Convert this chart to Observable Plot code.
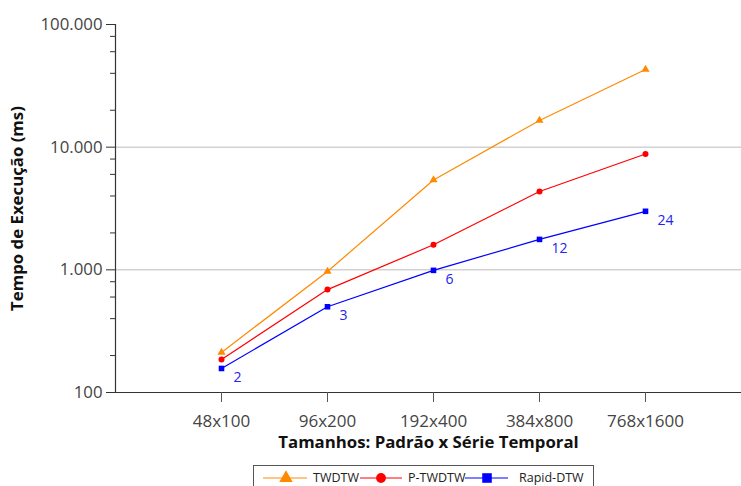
<!DOCTYPE html>
<html>
<head>
<meta charset="utf-8">
<script src="https://cdn.jsdelivr.net/npm/d3@7"></script>
<script src="https://cdn.jsdelivr.net/npm/@observablehq/plot@0.6"></script>
<style>
  body { margin: 0; background: #fff; font-family: "Open Sans", sans-serif; }
  #wrap { position: relative; width: 741px; height: 486px; overflow: hidden; }
  g[aria-label="x-axis label"] text, g[aria-label="y-axis label"] text { font-weight: bold; fill: #111; }
  #legend { position: absolute; left: 0; top: 456px; }
</style>
</head>
<body>
<div id="wrap">
  <div id="chart"></div>
  <div id="legend"></div>
</div>
<script>
const sizes = ["48x100", "96x200", "192x400", "384x800", "768x1600"];
const seriesNames = ["TWDTW", "P-TWDTW", "Rapid-DTW"];
const twdtw = [212, 970, 5400, 16500, 43000];
const pTwdtw = [186, 690, 1600, 4350, 8800];
const rapidDtw = [157, 500, 990, 1770, 3000];
const rapidLabels = ["2", "3", "6", "12", "24"];
const colors = ["#ff8a00", "#ff0000", "#0000ff"];
const symbols = ["triangle", "circle", "square"];
const radii = [5, 4.9, 5.4];
const yMajor = [100, 1000, 10000, 100000];
const yMinor = [200, 400, 600, 800, 2000, 4000, 6000, 8000, 20000, 40000, 60000, 80000];
const gridValues = [1000, 10000];

const values = [twdtw, pTwdtw, rapidDtw];
const data = [];
seriesNames.forEach((s, i) => sizes.forEach((sz, j) => data.push({series: s, size: sz, value: values[i][j], label: i === 2 ? rapidLabels[j] : ""})));
const rapid = data.filter(d => d.series === "Rapid-DTW");

const fmt = v => v.toLocaleString("pt-BR");

const chart = Plot.plot({
  width: 741,
  height: 456,
  marginLeft: 115,
  marginRight: 0,
  marginTop: 24,
  marginBottom: 64,
  style: {fontFamily: "Open Sans, sans-serif", background: "#fff"},
  x: {type: "point", domain: sizes, range: [115, 751], padding: 1},
  y: {type: "log", domain: [100, 100000]},
  color: {domain: seriesNames, range: colors},
  symbol: {domain: seriesNames, range: symbols},
  marks: [
    Plot.ruleY(gridValues, {stroke: "#bbb", strokeWidth: 1}),
    Plot.ruleY([100], {stroke: "#333", strokeWidth: 1.2}),
    Plot.frame({anchor: "left", stroke: "#333", strokeWidth: 1.2}),
    Plot.axisY(yMinor, {tickSize: 5, tickFormat: null, text: null, label: null, stroke: "#333"}),
    Plot.axisY(yMajor, {tickSize: 9, tickPadding: 4, tickFormat: fmt, fontSize: 16.8, fill: "#444", stroke: "#333",
      label: "Tempo de Execução (ms)", labelAnchor: "center", labelOffset: 104, labelArrow: "none"}),
    Plot.axisX({tickSize: 10, tickPadding: 12, fontSize: 17, fill: "#444", stroke: "#555",
      label: "Tamanhos: Padrão x Série Temporal", labelAnchor: "center", labelOffset: 55, labelArrow: "none"}),
    Plot.line(data, {x: "size", y: "value", z: "series", stroke: "series", strokeWidth: 1.2}),
    Plot.dot(data, {x: "size", y: "value", symbol: "series", fill: "series", r: d => radii[seriesNames.indexOf(d.series)], stroke: "none"}),
    Plot.text(rapid, {x: "size", y: "value", text: "label", dx: 12, dy: 9, textAnchor: "start", fill: "#2222ee", fontSize: 14})
  ]
});
chart.querySelectorAll('g[aria-label="x-axis label"] text').forEach(t => t.setAttribute("font-size", 16.8));
chart.querySelectorAll('g[aria-label="y-axis label"] text').forEach(t => t.setAttribute("font-size", 16.8));
document.getElementById("chart").appendChild(chart);

// legend (drawn as a small SVG below the chart)
const lg = d3.create("svg").attr("width", 741).attr("height", 30)
  .style("font-family", "Open Sans, sans-serif").style("font-size", "12.5px");
lg.append("rect").attr("x", 253.5).attr("y", 9.5).attr("width", 340).attr("height", 40)
  .attr("fill", "#fff").attr("stroke", "#555").attr("stroke-width", 1);
const legendItems = [
  {x1: 263, x2: 307, mx: 286, tx: 313},
  {x1: 360, x2: 402, mx: 381, tx: 408},
  {x1: 465, x2: 508, mx: 487, tx: 519}
];
const symFns = [d3.symbolTriangle, d3.symbolCircle, d3.symbolSquare];
seriesNames.forEach((name, i) => {
  const it = legendItems[i];
  lg.append("line").attr("x1", it.x1).attr("x2", it.x2).attr("y1", 22).attr("y2", 22)
    .attr("stroke", colors[i]).attr("stroke-width", 1.2);
  lg.append("path").attr("d", d3.symbol(symFns[i], Math.PI * radii[i] * radii[i])())
    .attr("transform", `translate(${it.mx},22)`).attr("fill", colors[i]);
  lg.append("text").attr("x", it.tx).attr("y", 22).attr("dy", "0.35em").attr("fill", "#222").text(name);
});
document.getElementById("legend").appendChild(lg.node());
</script>
</body>
</html>
